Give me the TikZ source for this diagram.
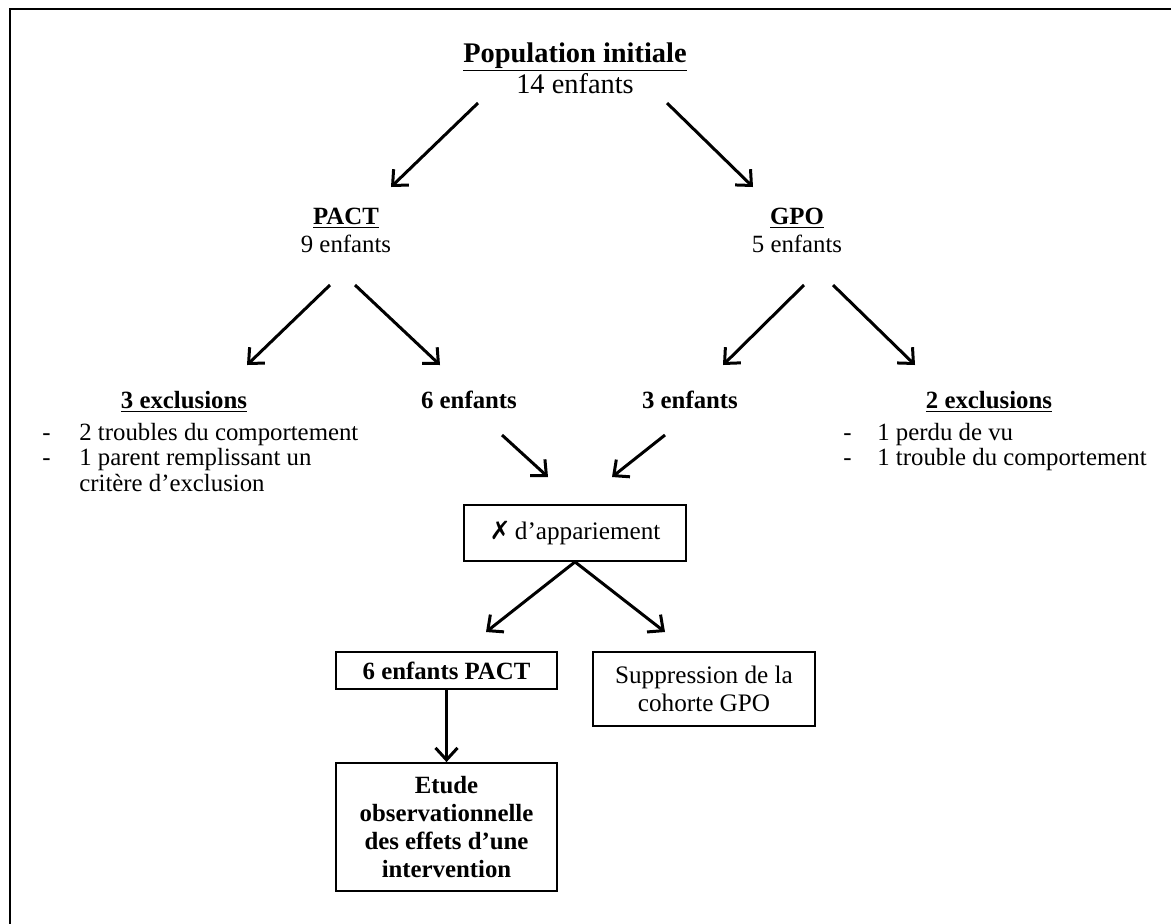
\documentclass[tikz,border=0pt]{standalone}
\usepackage{fontspec}
\setmainfont{Liberation Serif}
\newfontfamily\symfont{DejaVu Sans}
\usetikzlibrary{arrows.meta}
\begin{document}
\begin{tikzpicture}[x=0.5pt,y=-0.5pt,
  arr/.style={line width=1.5pt,-{Straight Barb[length=6pt,width=11pt,line width=1.5pt]}},
  big/.style={inner sep=0pt,anchor=base,font=\fontsize{14.2}{15.5}\selectfont},
  lbl/.style={inner sep=0pt,anchor=base,font=\fontsize{12.4}{13}\selectfont},
  lst/.style={inner sep=0pt,anchor=base west,font=\fontsize{12.4}{12.8}\selectfont},
  box/.style={draw,line width=0.9pt,inner sep=2pt,align=center,font=\fontsize{12.6}{14}\selectfont},
]
\useasboundingbox (0,0) rectangle (1171,923);
\clip (0,0) rectangle (1171,923);
\draw[line width=0.9pt] (10,940) -- (10,9) -- (1190,9);

% level 0
\node[big] (pop) at (575,62) {\textbf{\underline{Population initiale}}};
\node[big] (popn) at (575,93) {14 enfants};

% level 1
\node[lbl] (pact) at (346,224) {\textbf{\underline{PACT}}};
\node[lbl] (pactn) at (346,252) {9 enfants};
\node[lbl] (gpo) at (797,224) {\textbf{\underline{GPO}}};
\node[lbl] (gpon) at (797,252) {5 enfants};

% level 2
\node[lbl] (exclA) at (184,408) {\textbf{\underline{3 exclusions}}};
\node[lst] (listA) at (42,440) {\begin{tabular}[t]{@{}p{18.5pt}@{}l@{}}
- & 2 troubles du comportement\\
- & 1 parent remplissant un\\
  & critère d’exclusion
\end{tabular}};
\node[lbl] (sixA) at (469,408) {\textbf{6 enfants}};
\node[lbl] (troisB) at (690,408) {\textbf{3 enfants}};
\node[lbl] (exclB) at (989,408) {\textbf{\underline{2 exclusions}}};
\node[lst] (listB) at (843,440) {\begin{tabular}[t]{@{}p{17pt}@{}l@{}}
- & 1 perdu de vu\\
- & 1 trouble du comportement
\end{tabular}};

% boxes
\node[box,minimum width=111pt,minimum height=28pt] (match) at (575,533)
  {{\symfont\bfseries ✗}\,d’appariement};
\node[box,minimum width=110.5pt,minimum height=18.5pt,font=\fontsize{12.4}{14}\selectfont\bfseries] (pactbox) at (446.5,670.5) {6 enfants PACT};
\node[box,minimum width=111pt,minimum height=37pt] (suppr) at (704,689) {Suppression de la\\cohorte GPO};
\node[box,minimum width=110.5pt,minimum height=64pt,font=\fontsize{12.4}{14}\selectfont\bfseries] (etude) at (446.5,827) {Etude\\observationnelle\\des effets d’une\\intervention};

% arrow end points
\coordinate (a1s) at (478,103); \coordinate (a1e) at (391,187);
\coordinate (a2s) at (667,103); \coordinate (a2e) at (753,187);
\coordinate (b1s) at (330,285); \coordinate (b1e) at (247,365);
\coordinate (b2s) at (355,285); \coordinate (b2e) at (440,365);
\coordinate (c1s) at (804,285); \coordinate (c1e) at (723,365);
\coordinate (c2s) at (833,285); \coordinate (c2e) at (915,365);
\coordinate (d1s) at (502,435); \coordinate (d1e) at (548,477);
\coordinate (d2s) at (665,435); \coordinate (d2e) at (612,477);
\coordinate (e1e) at (486,632);
\coordinate (e2e) at (665,632);

\draw[arr] (a1s) -- (a1e);
\draw[arr] (a2s) -- (a2e);
\draw[arr] (b1s) -- (b1e);
\draw[arr] (b2s) -- (b2e);
\draw[arr] (c1s) -- (c1e);
\draw[arr] (c2s) -- (c2e);
\draw[arr] (d1s) -- (d1e);
\draw[arr] (d2s) -- (d2e);
\draw[arr] (match.south) -- (e1e);
\draw[arr] (match.south) -- (e2e);
\draw[arr] (pactbox.south) -- (etude.north);
\end{tikzpicture}
\end{document}
